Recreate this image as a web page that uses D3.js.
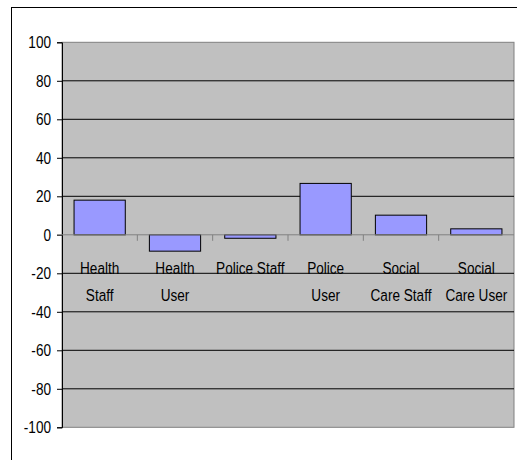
<!DOCTYPE html>
<html><head><meta charset="utf-8">
<script src="https://cdn.jsdelivr.net/npm/d3@7"></script>
<style>body{margin:0;background:#fff;}svg{display:block;}
text{font-family:"Liberation Sans",Arial,sans-serif;font-size:17px;fill:#000;}</style>
</head><body>
<script>
const categories = ["Health Staff","Health User","Police Staff","Police User","Social Care Staff","Social Care User"];
const labelLines = [["Health","Staff"],["Health","User"],["Police Staff"],["Police","User"],["Social","Care Staff"],["Social","Care User"]];
const values = [18, -8.5, -1.8, 26.7, 10.2, 3.1];
const yTicks = [100,80,60,40,20,0,-20,-40,-60,-80,-100];

(function(){
const W=517,H=460, SX=0.8;
const svg=d3.select("body").append("svg").attr("width",W).attr("height",H);
svg.append("rect").attr("x",11.5).attr("y",7.5).attr("width",530).attr("height",480)
  .attr("fill","#fff").attr("stroke","#000").attr("stroke-width",1);

const pLeft=62, pRight=514, pTop=42.3, pBottom=427.3;
const y=d3.scaleLinear().domain([-100,100]).range([pBottom,pTop]);
const x=d3.scaleBand().domain(categories).range([pLeft,pRight]).paddingInner(0.32).paddingOuter(0.16);

svg.append("rect").attr("x",pLeft).attr("y",pTop).attr("width",pRight-pLeft).attr("height",pBottom-pTop)
  .attr("fill","#C0C0C0").attr("stroke","#808080").attr("stroke-width",1);

svg.append("g").selectAll("line").data(yTicks.filter(d=>d!==0&&Math.abs(d)!==100)).join("line")
  .attr("x1",pLeft).attr("x2",pRight).attr("y1",d=>y(d)).attr("y2",d=>y(d))
  .attr("stroke","#000").attr("stroke-width",1);

const yAxis=d3.axisLeft(y).tickValues(yTicks).tickSize(5).tickPadding(6).tickFormat(d=>String(d));
const ga=svg.append("g").attr("transform",`translate(${pLeft},0)`).call(yAxis);
ga.select(".domain").attr("stroke","#000");
ga.selectAll(".tick line").attr("stroke","#000");
ga.selectAll("text").attr("font-size",null).attr("font-family",null).attr("fill","#000")
  .style("font-size","17px").style("font-family",'"Liberation Sans",Arial,sans-serif')
  .attr("x",0).attr("transform",`translate(-11,0) scale(${SX},1)`);

svg.append("g").selectAll("rect").data(values).join("rect")
  .attr("x",(d,i)=>x(categories[i]))
  .attr("width",x.bandwidth())
  .attr("y",d=>y(Math.max(0,d)))
  .attr("height",d=>Math.abs(y(d)-y(0)))
  .attr("fill","#9999FF").attr("stroke","#000").attr("stroke-width",1);

svg.append("line").attr("x1",pLeft-5).attr("x2",pRight).attr("y1",y(0)).attr("y2",y(0))
  .attr("stroke","#808080").attr("stroke-width",1);
const step=x.step();
const bounds=d3.range(1,categories.length).map(i=>pLeft+i*step);
svg.append("g").selectAll("line").data(bounds).join("line")
  .attr("x1",d=>d).attr("x2",d=>d).attr("y1",y(0)).attr("y2",y(0)+6)
  .attr("stroke","#808080").attr("stroke-width",1);

const lg=svg.append("g");
categories.forEach((c,i)=>{
  const cx=pLeft+(i+0.5)*step;
  labelLines[i].forEach((ln,j)=>{
    lg.append("text").attr("text-anchor","middle")
      .attr("transform",`translate(${cx},${274+j*27}) scale(${SX},1)`).text(ln);
  });
});
})();
</script>
</body></html>
